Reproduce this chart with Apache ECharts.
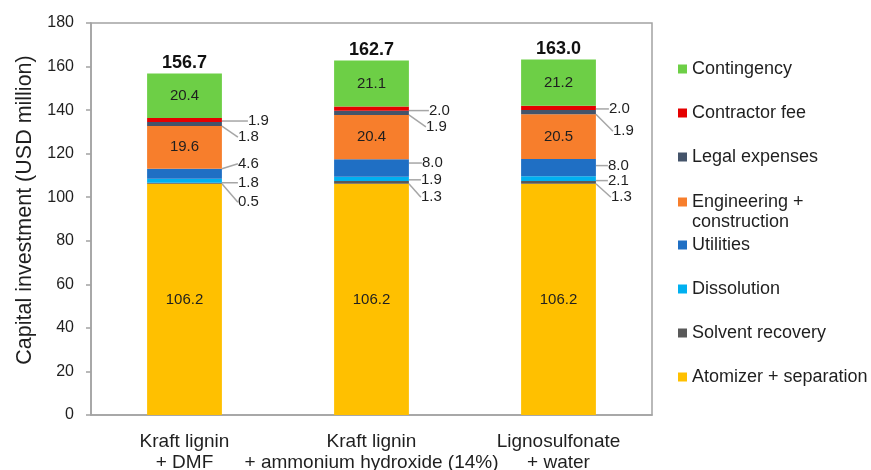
<!DOCTYPE html>
<html>
<head>
<meta charset="utf-8">
<script src="https://cdn.jsdelivr.net/npm/echarts@6/dist/echarts.min.js"></script>
<style>
  html, body { margin: 0; padding: 0; background: #fff; }
  #chart { width: 871px; height: 470px; }
</style>
</head>
<body>
<div id="chart"></div>
<script>
// Process configurations
const categories = [
  'Kraft lignin\n+ DMF',
  'Kraft lignin\n+ ammonium hydroxide (14%)',
  'Lignosulfonate\n+ water'
];

// Capital investment breakdown, USD million
const atomizerSeparation = [106.2, 106.2, 106.2];
const solventRecovery    = [0.5, 1.3, 1.3];
const dissolution        = [1.8, 1.9, 2.1];
const utilities          = [4.6, 8.0, 8.0];
const engineering        = [19.6, 20.4, 20.5];
const legalExpenses      = [1.8, 1.9, 1.9];
const contractorFee      = [1.9, 2.0, 2.0];
const contingency        = [20.4, 21.1, 21.2];
const totals             = [156.7, 162.7, 163.0];

const yTicks = { min: 0, max: 180, interval: 20 };

const FONT = '"Liberation Sans", Arial, sans-serif';
const TEXT = '#1f1f1f';
const FRAME = '#a3a3a3';

// Leader-line offsets [dx, dy] for the thin segments, per bar
const sideOffsets = {
  contractor:  [[22, 1], [16, 2], [9, 1]],
  legal:       [[12, 13], [13, 14], [13, 19]],
  utilities:   [[12, -10], [9, -5], [8, -2]],
  dissolution: [[12, 2], [8, 1], [8, 2]],
  solvent:     [[12, 19], [8, 15], [11, 15]]
};

function insideSeries(name, data, color) {
  return {
    name, type: 'bar', stack: 'capex', data, barWidth: '40%',
    itemStyle: { color },
    label: {
      show: true, position: 'inside', fontFamily: FONT, fontSize: 15, color: TEXT,
      formatter: p => p.value.toFixed(1)
    }
  };
}

function sideSeries(name, data, color, key) {
  return {
    name, type: 'bar', stack: 'capex', data, barWidth: '40%',
    itemStyle: { color },
    label: {
      show: true, position: 'right', distance: 4, fontFamily: FONT, fontSize: 15, color: TEXT,
      formatter: p => p.value.toFixed(1)
    },
    labelLine: { show: true, lineStyle: { color: '#a6a6a6', width: 1.5 } },
    labelLayout: p => ({ dx: sideOffsets[key][p.dataIndex][0], dy: sideOffsets[key][p.dataIndex][1] })
  };
}

const series = [
  insideSeries('Atomizer + separation', atomizerSeparation, '#FFC000'),
  sideSeries('Solvent recovery', solventRecovery, '#595959', 'solvent'),
  sideSeries('Dissolution', dissolution, '#00B0F0', 'dissolution'),
  sideSeries('Utilities', utilities, '#1F6FC4', 'utilities'),
  insideSeries('Engineering + construction', engineering, '#F77E2C'),
  sideSeries('Legal expenses', legalExpenses, '#44546A', 'legal'),
  sideSeries('Contractor fee', contractorFee, '#E50000', 'contractor'),
  insideSeries('Contingency', contingency, '#6DCF46'),
  {
    name: 'Total', type: 'line', data: totals, silent: true,
    symbol: 'circle', symbolSize: 1, itemStyle: { opacity: 0 }, lineStyle: { opacity: 0 },
    label: {
      show: true, position: 'top', distance: 1,
      fontFamily: FONT, fontSize: 18, fontWeight: 'bold', color: '#111', opacity: 1,
      formatter: p => p.value.toFixed(1)
    }
  }
];

// Legend, top to bottom
const legendNames = [
  'Contingency', 'Contractor fee', 'Legal expenses', 'Engineering + construction',
  'Utilities', 'Dissolution', 'Solvent recovery', 'Atomizer + separation'
];
const legendCenters = [69, 113, 157, 202, 245, 289, 333, 377];

const legends = legendNames.map((name, i) => {
  const twoLine = name === 'Engineering + construction';
  return {
    orient: 'vertical', left: 678,
    top: twoLine ? legendCenters[i] - 30 : legendCenters[i] - 9,
    padding: 0, itemWidth: 9, itemHeight: 9, itemGap: 0,
    icon: 'rect', selectedMode: false,
    data: [name],
    // the wrapped entry keeps its first line level with the swatch
    formatter: n => (n === 'Engineering + construction' ? ' \nEngineering +\nconstruction' : n),
    textStyle: { fontFamily: FONT, fontSize: 18, color: TEXT, lineHeight: twoLine ? 20 : 18 }
  };
});

const chart = echarts.init(document.getElementById('chart'), null, { renderer: 'canvas' });
chart.setOption({
  animation: false,
  backgroundColor: '#ffffff',
  legend: legends,
  grid: {
    left: 91, right: 219, top: 23, bottom: 55,
    outerBoundsMode: 'none', containLabel: false,
    show: true, borderColor: FRAME, borderWidth: 1.5, backgroundColor: 'transparent'
  },
  xAxis: {
    type: 'category', data: categories,
    axisLine: { lineStyle: { color: FRAME, width: 1.5 } },
    axisTick: { show: false },
    axisLabel: { fontFamily: FONT, fontSize: 19, color: TEXT, lineHeight: 21, margin: 16, interval: 0 }
  },
  yAxis: {
    type: 'value', min: yTicks.min, max: yTicks.max, interval: yTicks.interval,
    name: 'Capital investment (USD million)', nameLocation: 'middle', nameGap: 55,
    nameTextStyle: { fontFamily: FONT, fontSize: 21.5, color: TEXT, padding: [0, 0, 0, 18] },
    axisLine: { show: true, lineStyle: { color: FRAME, width: 1.5 } },
    axisTick: { show: true, length: 5, lineStyle: { color: FRAME, width: 1.5 } },
    splitLine: { show: false },
    axisLabel: { fontFamily: FONT, fontSize: 16, color: TEXT, margin: 17 }
  },
  series
});
</script>
</body>
</html>
